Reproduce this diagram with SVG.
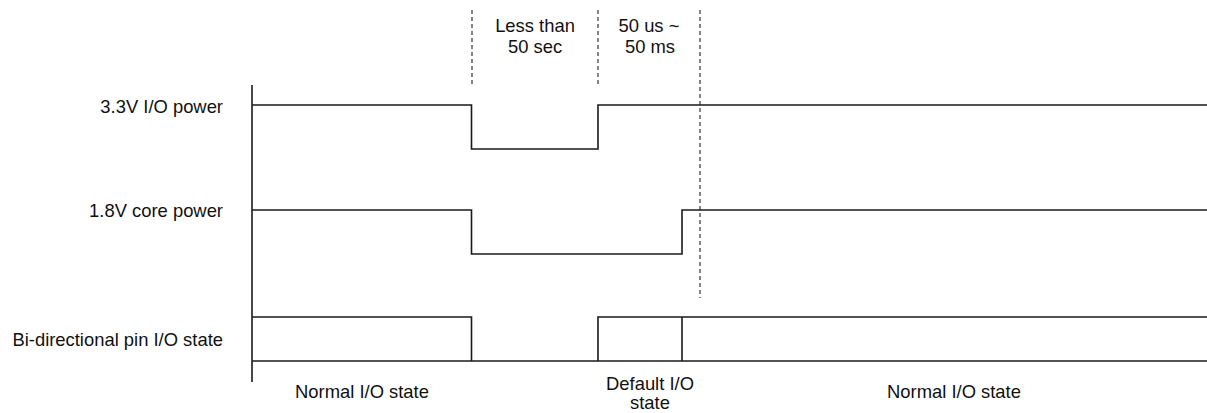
<svg xmlns="http://www.w3.org/2000/svg" width="1207" height="413" viewBox="0 0 1207 413">
<style>
.sig{fill:none;stroke:#1a1a1a;stroke-width:1.6;stroke-linejoin:miter}
.dash{fill:none;stroke:#222;stroke-width:1.1;stroke-dasharray:4 3}
text{font-family:"Liberation Sans",Arial,sans-serif;font-size:18.4px;fill:#111}
.r{text-anchor:end}
.m{text-anchor:middle}
</style>
<rect width="1207" height="413" fill="#fff"/>
<g id="labels">
<text class="r" x="223" y="113">3.3V I/O power</text>
<text class="r" x="223" y="217">1.8V core power</text>
<text class="r" x="223" y="346">Bi-directional pin I/O state</text>
<text class="m" x="362" y="398">Normal I/O state</text>
<text class="m" x="650" y="390">Default I/O</text>
<text class="m" x="650" y="409">state</text>
<text class="m" x="954" y="398">Normal I/O state</text>
<text class="m" x="535" y="32">Less than</text>
<text class="m" x="535" y="53">50 sec</text>
<text class="m" x="649" y="32">50 us ~</text>
<text class="m" x="650" y="53">50 ms</text>
</g>
<g id="axis">
<line class="sig" x1="252" y1="85" x2="252" y2="382"/>
</g>
<g id="sig-33v">
<polyline class="sig" points="252,105 471.5,105 471.5,149 598,149 598,105 1207,105"/>
</g>
<g id="sig-18v">
<polyline class="sig" points="252,210 471.5,210 471.5,254 682,254 682,210 1207,210"/>
</g>
<g id="sig-bidir">
<polyline class="sig" points="252,317 471.5,317 471.5,361"/>
<line class="sig" x1="252" y1="361" x2="1207" y2="361"/>
<polyline class="sig" points="598,361 598,317 1207,317"/>
<line class="sig" x1="682" y1="317" x2="682" y2="361"/>
</g>
<g id="markers">
<line class="dash" x1="472" y1="10" x2="472" y2="84"/>
<line class="dash" x1="598" y1="10" x2="598" y2="84"/>
<line class="dash" x1="700" y1="10" x2="700" y2="298"/>
</g>
</svg>
